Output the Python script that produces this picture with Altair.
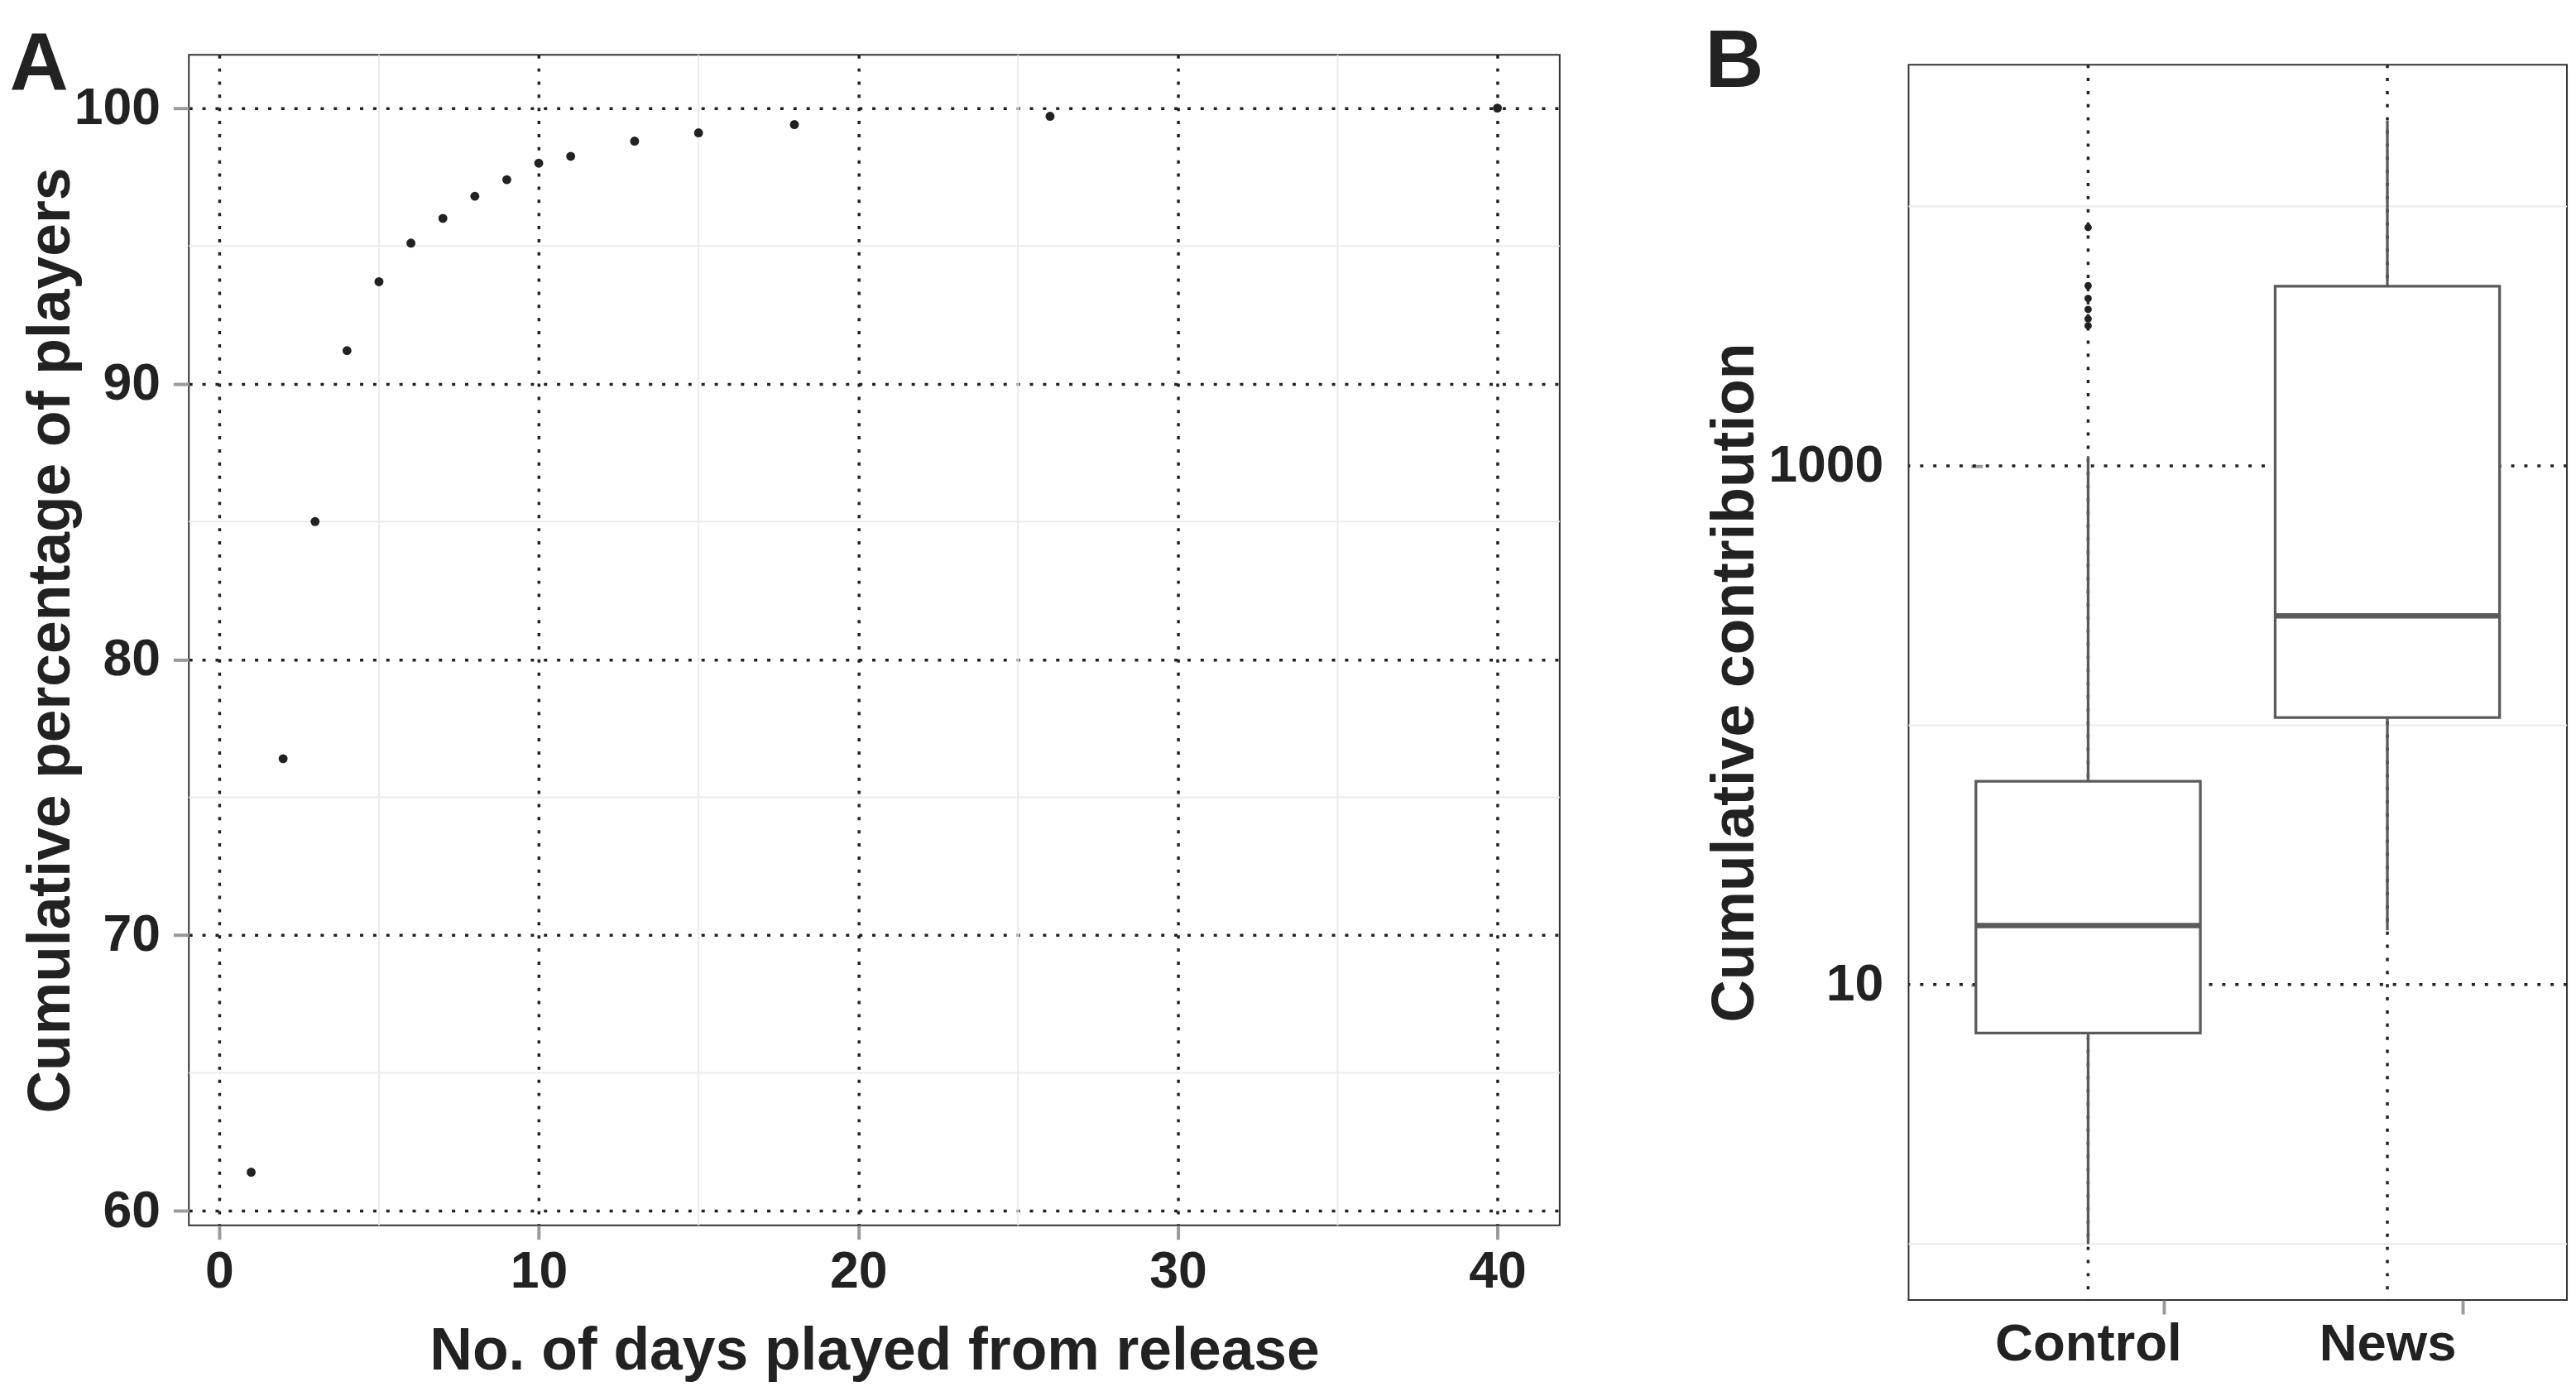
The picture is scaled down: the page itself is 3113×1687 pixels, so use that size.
import altair as alt
import pandas as pd
import numpy as np

# ---------------- data ----------------
days = [1, 2, 3, 4, 5, 6, 7, 8, 9, 10, 11, 13, 15, 18, 26, 40]
cum_pct = [61.4, 76.4, 85.0, 91.2, 93.7, 95.1, 96.0, 96.8, 97.4, 98.0, 98.25,
           98.8, 99.1, 99.4, 99.7, 100.0]
a_x_ticks = [0, 10, 20, 30, 40]
a_x_minor = [5, 15, 25, 35]
a_y_ticks = [60, 70, 80, 90, 100]
a_y_minor = [65, 75, 85, 95]

groups = ["Control", "News"]
whisker_low = [1.0, 16.2]
q1 = [6.5, 107.0]
median = [16.9, 264.0]
q3 = [60.8, 4930.0]
whisker_high = [1090.0, 21400.0]
outlier_group = ["Control", "Control", "Control", "Control", "Control", "Control"]
outlier_value = [8300.0, 4950.0, 4420.0, 4010.0, 3690.0, 3470.0]
b_y_ticks = [10, 1000]
b_y_minor = [1, 100, 10000]

# ---------------- style ----------------
FONT = "Liberation Sans"
TXT = "#222222"
BOX = "#5a5a5a"
TICK = "#9a9a9a"
MINOR = "#ebebeb"
DASH = [4, 12]
GW = 3.5

def expand(lo, hi, f=0.05):
    d = (hi - lo) * f
    return [lo - d, hi + d]

a_xdom = expand(min(days), max(days))
a_ydom = expand(min(cum_pct), max(cum_pct))
lmin = np.log10(min(min(whisker_low), min(outlier_value)))
lmax = np.log10(max(max(whisker_high), max(outlier_value)))
ld = expand(lmin, lmax)
b_ydom = [float(10 ** ld[0]), float(10 ** ld[1])]

lab = dict(labelFont=FONT, labelFontWeight="bold", labelColor=TXT,
           titleFont=FONT, titleFontWeight="bold", titleColor=TXT,
           domain=False, tickColor=TICK, tickWidth=4, labelLimit=1000)

def letter(t, dx):
    return alt.TitleParams(t, anchor="start", frame="bounds", fontSize=99,
                           font=FONT, fontWeight="bold", color=TXT,
                           baseline="alphabetic", offset=-142, dx=dx)

# ---------------- panel A ----------------
a_xs = alt.Scale(domain=a_xdom, nice=False, zero=False)
a_ys = alt.Scale(domain=a_ydom, nice=False, zero=False)
a_xaxis = alt.Axis(values=a_x_ticks, format="d", title="No. of days played from release",
                   grid=True, gridDash=DASH, gridColor=TXT, gridWidth=GW,
                   tickSize=17, labelPadding=8, labelFontSize=63, labelFlush=False,
                   titleFontSize=72, titlePadding=30, **lab)
a_yaxis = alt.Axis(values=a_y_ticks, format="d", title="Cumulative percentage of players",
                   grid=True, gridDash=DASH, gridColor=TXT, gridWidth=GW,
                   tickSize=19, labelPadding=16, labelFontSize=63,
                   titleFontSize=72, titlePadding=-9, **lab)

df_a = pd.DataFrame({"day": days, "pct": cum_pct})
df_ax_minor = pd.DataFrame({"day": a_x_minor})
df_ay_minor = pd.DataFrame({"pct": a_y_minor})

a_minor_x = alt.Chart(df_ax_minor).mark_rule(color=MINOR, strokeWidth=2).encode(
    x=alt.X("day:Q", scale=a_xs, axis=a_xaxis))
a_minor_y = alt.Chart(df_ay_minor).mark_rule(color=MINOR, strokeWidth=2).encode(
    y=alt.Y("pct:Q", scale=a_ys, axis=a_yaxis))
a_points = alt.Chart(df_a).mark_circle(size=120, color=TXT, opacity=1).encode(
    x=alt.X("day:Q", scale=a_xs, axis=a_xaxis),
    y=alt.Y("pct:Q", scale=a_ys, axis=a_yaxis),
)

panel_a = alt.layer(a_minor_x, a_minor_y, a_points).properties(
    width=1670, height=1426, title=letter("A", -14))

# ---------------- panel B ----------------
b_xs = alt.Scale(domain=groups, paddingInner=0.25, paddingOuter=0.225)
b_ys = alt.Scale(type="log", domain=b_ydom, nice=False, zero=False)
b_xaxis = alt.Axis(title=None, grid=False, labelAngle=0, tickSize=17, tickOffset=92,
                   labelOffset=-92, labelPadding=5, labelFontSize=64, **lab)
b_yaxis = alt.Axis(values=b_y_ticks, format="d", title="Cumulative contribution", grid=False,
                   offset=-90, tickSize=14, labelPadding=107, labelFontSize=63,
                   titleFontSize=72, titlePadding=64, **lab)

df_box = pd.DataFrame({"group": groups, "lo": whisker_low, "q1": q1,
                       "med": median, "q3": q3, "hi": whisker_high})
df_out = pd.DataFrame({"group": outlier_group, "val": outlier_value})
df_bmajor = pd.DataFrame({"val": b_y_ticks})
df_bminor = pd.DataFrame({"val": b_y_minor})

bx = alt.X("group:N", scale=b_xs, axis=b_xaxis)

def by(field):
    return alt.Y(field, scale=b_ys, axis=b_yaxis)

b_minor = alt.Chart(df_bminor).mark_rule(color=MINOR, strokeWidth=2).encode(y=by("val:Q"))
b_major_h = alt.Chart(df_bmajor).mark_rule(color=TXT, strokeWidth=GW, strokeDash=DASH).encode(
    y=by("val:Q"))
b_major_v = alt.Chart(df_box).mark_rule(color=TXT, strokeWidth=GW, strokeDash=DASH).encode(x=bx)
b_wlo = alt.Chart(df_box).mark_rule(color=BOX, strokeWidth=3.3).encode(
    x=bx, y=by("lo:Q"), y2="q1:Q")
b_whi = alt.Chart(df_box).mark_rule(color=BOX, strokeWidth=3.3).encode(
    x=bx, y=by("q3:Q"), y2="hi:Q")
b_box = alt.Chart(df_box).mark_bar(fill="white", stroke=BOX, strokeWidth=3.3).encode(
    x=bx, y=by("q1:Q"), y2="q3:Q")
b_med = alt.Chart(df_box).mark_tick(color=BOX, thickness=6.6, size=274, orient="horizontal",
                                    opacity=1).encode(x=bx, y=by("med:Q"))
b_out = alt.Chart(df_out).mark_circle(size=80, color=TXT, opacity=1).encode(
    x=bx, y=by("val:Q"))

panel_b = alt.layer(b_minor, b_major_h, b_major_v, b_wlo, b_whi, b_box, b_med, b_out).properties(
    width=802, height=1505)

# invisible strip that lowers panel B slightly relative to panel A
spacer = alt.Chart(pd.DataFrame({"s": [0]})).mark_point(opacity=0).encode(
    x=alt.value(0), y=alt.value(0)).properties(
    width=802, height=1, view=alt.ViewBackground(stroke="transparent"))

panel_b_group = alt.vconcat(spacer, panel_b, spacing=5, title=letter("B", 0))

chart = alt.hconcat(panel_a, panel_b_group, spacing=175).properties(
    background="white",
    padding={"top": 12, "left": 2, "right": 0, "bottom": 0},
).configure_view(stroke="#333333", strokeWidth=2)

chart.save("out.html", embed_options={"renderer": "svg", "actions": False})
